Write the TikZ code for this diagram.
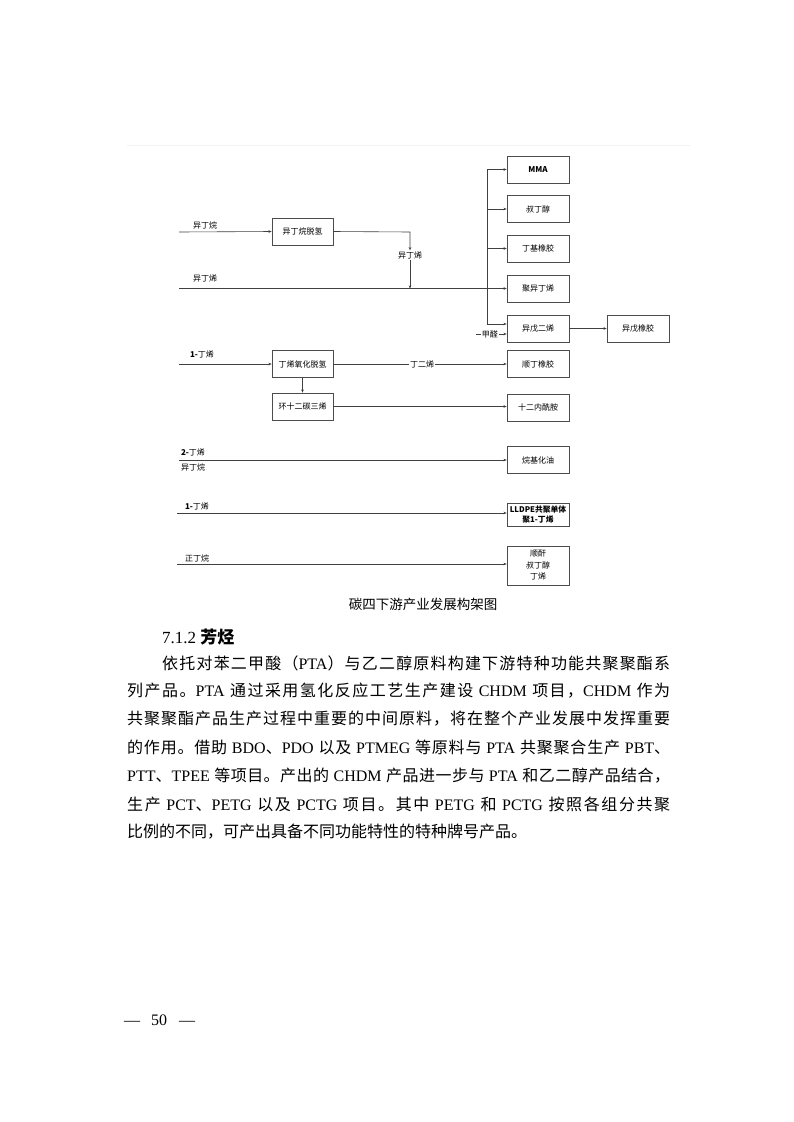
\documentclass[tikz,border=0pt]{standalone}
\usepackage{fontspec}
\setmainfont{Liberation Serif}
\newfontfamily\cjk{Noto Sans CJK SC}
\newfontfamily\en{Liberation Serif}
\usetikzlibrary{arrows.meta}
\makeatletter
\count@="4E00
\loop
  \XeTeXcharclass\count@=1
  \advance\count@ 1
\ifnum\count@<"A000 \repeat
\makeatother
\XeTeXcharclass"3001=3
\XeTeXcharclass"3002=3
\XeTeXcharclass"FF0C=3
\XeTeXcharclass"FF09=3
\XeTeXcharclass"FF08=2
\XeTeXinterchartoks 1 1 = {\hskip 0pt plus 1fil\relax}
\XeTeXinterchartoks 1 2 = {\hskip 0pt plus 1fil\relax}
\XeTeXinterchartoks 1 3 = {\hskip 0pt plus 1fil\relax}
\XeTeXinterchartoks 3 1 = {\hskip 0pt plus 1fil\relax}
\XeTeXinterchartoks 3 2 = {\hskip 0pt plus 1fil\relax}
\XeTeXinterchartoks 2 1 = {\hskip 0pt plus 1fil\relax}
\XeTeXinterchartoks 3 3 = {\hskip 0pt plus 1fil\relax}
\newcommand{\jline}[3]{\node[anchor=west,inner sep=0pt] (#1) at (127,#2) {\hbox to 543pt{\XeTeXinterchartokenstate=1 \cjk\fontsize{16}{16}\selectfont\spaceskip=4pt plus 1fil\relax #3}};}
\begin{document}
\begin{tikzpicture}[x=1pt,y=-1pt,
  box/.style={draw=black!70,line width=0.6pt,minimum width=62pt,minimum height=27pt,inner sep=0pt,align=center,font=\cjk\fontsize{8}{9.5}\selectfont},
  lbl/.style={inner sep=0.8pt,font=\cjk\fontsize{8}{9}\selectfont},
  ln/.style={draw=black!75,line width=0.6pt},
  arr/.style={ln,-{Stealth[length=3.2pt,width=2.6pt]}}]
\useasboundingbox (0,0) rectangle (793,1122);
\fill[white] (0,0) rectangle (793,1122);
\draw[black!5,line width=0.5pt] (127,145) -- (690,145);

% boxes
\node[box,font=\cjk\bfseries\fontsize{8}{9}\selectfont] (mma) at (538,169.5) {MMA};
\node[box] (tba) at (538,209) {叔丁醇};
\node[box] (iir) at (538,248.5) {丁基橡胶};
\node[box] (pib) at (538,288.5) {聚异丁烯};
\node[box] (ip) at (538,328.5) {异戊二烯};
\node[box] (ir) at (638,328.5) {异戊橡胶};
\node[box] (br) at (538,364) {顺丁橡胶};
\node[box] (ll) at (538,407.5) {十二内酰胺};
\node[box] (alk) at (538,460) {烷基化油};
\node[box,minimum height=23pt,font=\cjk\bfseries\fontsize{7.8}{9.5}\selectfont] (lldpe) at (538,514.5) {LLDPE共聚单体\\聚1-丁烯};
\node[box,minimum height=39pt,font=\cjk\fontsize{8}{11.5}\selectfont] (ma) at (538,565.5) {顺酐\\叔丁醇\\丁烯};
\node[box,minimum width=61pt] (dh) at (302.5,231.5) {异丁烷脱氢};
\node[box,minimum width=61pt] (odh) at (302.5,364) {丁烯氧化脱氢};
\node[box,minimum width=61pt] (cdt) at (302.5,406.5) {环十二碳三烯};

% 异丁烷 -> 脱氢
\coordinate (s1) at (179,232);
\node[lbl,anchor=west] (l1) at (192,225) {异丁烷};
\draw[arr] (s1) -- (dh.west);
\coordinate (c1) at (410,232);
\node[lbl] (ib) at (410,255) {异丁烯};
\draw[arr] (dh.east) -- (c1) -- (ib.north);
\coordinate (j1) at (410,288.5);
\draw[arr] (ib.south) -- (j1);

% 异丁烯 main line
\coordinate (s2) at (179,288.5);
\node[lbl,anchor=west] (l2) at (192,278) {异丁烯};
\draw[arr] (s2) -- (pib.west);

% bus
\coordinate (bt) at (487,169.5);
\coordinate (bb) at (487,324);
\draw[arr] (bb) -- (bt) -- (mma.west);
\draw[arr] (bt |- tba.west) -- (tba.west);
\draw[arr] (bt |- iir.west) -- (iir.west);
\draw[arr] (bb) -- ([yshift=4.5pt]ip.west);

% 甲醛
\coordinate (f0) at (476,334);
\node[lbl,anchor=west,inner sep=0.6pt] (fa) at (481,334) {甲醛};
\draw[ln] (f0) -- (fa.west);
\draw[arr] (fa.east) -- ([yshift=-5.5pt]ip.west);
\draw[arr] (ip.east) -- (ir.west);

% 1-丁烯 -> 氧化脱氢
\coordinate (s3) at (179,364);
\node[lbl,anchor=west] (l3) at (189,354) {\bfseries 1-\mdseries 丁烯};
\draw[arr] (s3) -- (odh.west);
\node[lbl] (bd) at (422,364) {丁二烯};
\draw[ln] (odh.east) -- (bd.west);
\draw[arr] (bd.east) -- (br.west);
\draw[arr] (odh.south) -- (cdt.north);
\draw[arr] (cdt.east) -- (cdt.east -| ll.west);

% 2-丁烯 / 异丁烷
\coordinate (s4) at (179,460);
\node[lbl,anchor=west] (l4a) at (180,452.5) {\bfseries 2-\mdseries 丁烯};
\node[lbl,anchor=west] (l4b) at (180,467.5) {异丁烷};
\draw[arr] (s4) -- (alk.west);

% 1-丁烯 -> LLDPE
\coordinate (s5) at (177,513);
\node[lbl,anchor=west] (l5) at (184,506.5) {\bfseries 1-\mdseries 丁烯};
\draw[arr] (s5) -- (s5 -| lldpe.west);

% 正丁烷
\coordinate (s6) at (177,564);
\node[lbl,anchor=west] (l6) at (184,558) {正丁烷};
\draw[arr] (s6) -- (s6 -| ma.west);

% caption
\node[inner sep=0pt,font=\cjk\fontsize{13.5}{14}\selectfont] (cap) at (423,604) {碳四下游产业发展构架图};

% heading
\node[anchor=west,inner sep=0pt] (hd) at (162,637) {\fontsize{17}{17}\selectfont\en 7.1.2 {\cjk\bfseries 芳烃}};

% body
\jline{p1}{663}{\hskip 35pt 依托对苯二甲酸（{\en PTA}）与乙二醇原料构建下游特种功能共聚聚酯系}
\jline{p2}{691}{列产品。{\en PTA} 通过采用氢化反应工艺生产建设 {\en CHDM} 项目，{\en CHDM} 作为}
\jline{p3}{719}{共聚聚酯产品生产过程中重要的中间原料，将在整个产业发展中发挥重要}
\jline{p4}{747}{的作用。借助 {\en BDO}、{\en PDO} 以及 {\en PTMEG} 等原料与 {\en PTA} 共聚聚合生产 {\en PBT}、}
\jline{p5}{776}{{\en PTT}、{\en TPEE} 等项目。产出的 {\en CHDM} 产品进一步与 {\en PTA} 和乙二醇产品结合，}
\jline{p6}{804}{生产 {\en PCT}、{\en PETG} 以及 {\en PCTG} 项目。其中 {\en PETG} 和 {\en PCTG} 按照各组分共聚}
\node[anchor=west,inner sep=0pt] (p7) at (127,832) {\cjk\fontsize{16}{16}\selectfont 比例的不同，可产出具备不同功能特性的特种牌号产品。};

% page number
\node[anchor=west,inner sep=0pt] (pg) at (124,1020) {\fontsize{16}{16}\selectfont\en —\hspace{11pt}50\hspace{12pt}—};
\end{tikzpicture}
\end{document}
